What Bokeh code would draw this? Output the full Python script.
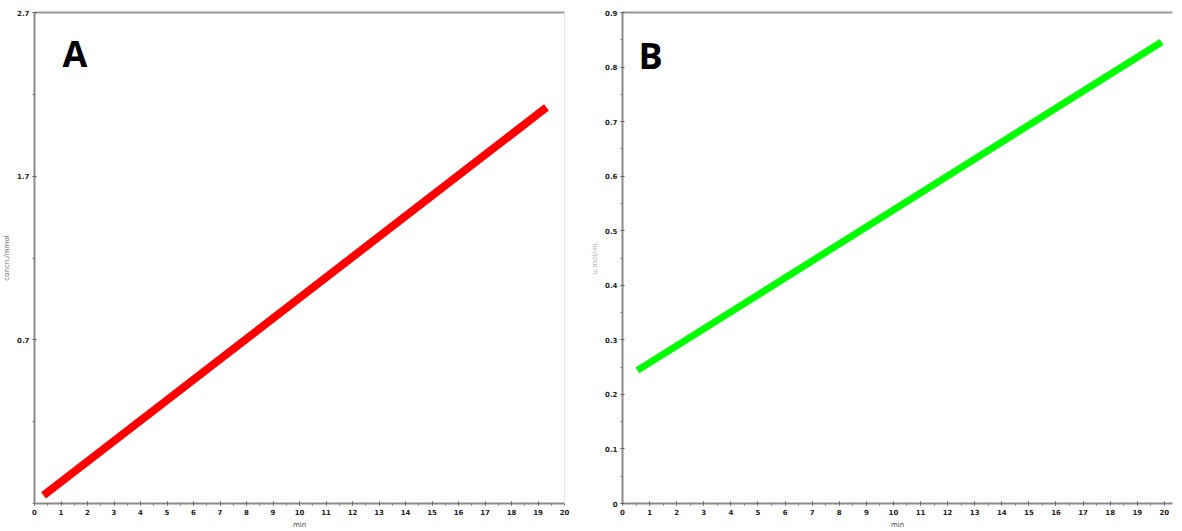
from bokeh.plotting import figure
from bokeh.models import LinearAxis, FixedTicker, Range1d, Label
from bokeh.layouts import row
from bokeh.embed import file_html
from bokeh.resources import INLINE

# Panel A data
a_time = [0.34, 19.32]
a_conc = [-0.25, 2.12]
a_yticks = [0.7, 1.7, 2.7]
a_yminor = [-0.3, 0.2, 0.7, 1.2, 1.7, 2.2, 2.7]
a_ylabel = "concn./mmol"

# Panel B data
b_time = [0.55, 19.9]
b_conc = [0.244, 0.846]
b_yticks = [0.0, 0.1, 0.2, 0.3, 0.4, 0.5, 0.6, 0.7, 0.8, 0.9]
b_yminor = [i * 0.05 for i in range(19)]
b_ylabel = "u.mol/mL"

x_ticks = list(range(0, 21))
x_minor = [i * 0.5 for i in range(41)]
x_label = "min"

AX = "#8a8a8a"
TICKFONT = "DejaVu Sans"


def style(p, yticks, yminor, ylabel, ylabel_color):
    p.xaxis.ticker = FixedTicker(ticks=x_ticks, minor_ticks=x_minor)
    p.yaxis.ticker = FixedTicker(ticks=yticks, minor_ticks=yminor)
    for ax in (p.xaxis[0], p.yaxis[0]):
        ax.axis_line_color = AX
        ax.axis_line_width = 2
        ax.major_tick_line_color = "#555555"
        ax.minor_tick_line_color = "#777777"
        ax.major_tick_in = 2
        ax.major_tick_out = 2
        ax.minor_tick_in = 0
        ax.minor_tick_out = 2
        ax.major_label_text_font = TICKFONT
        ax.major_label_text_font_size = "7px"
        ax.major_label_text_font_style = "bold"
        ax.major_label_text_color = "#222222"
        ax.major_label_standoff = 3
        ax.axis_label_text_font = TICKFONT
        ax.axis_label_text_font_size = "7px"
        ax.axis_label_text_font_style = "normal"
        ax.axis_label_standoff = 3
    p.xaxis.axis_label = x_label
    p.xaxis.axis_label_text_color = "#444444"
    p.yaxis.axis_label = ylabel
    p.yaxis.axis_label_text_color = ylabel_color
    p.xgrid.visible = False
    p.ygrid.visible = False
    p.outline_line_color = None
    top = LinearAxis(ticker=FixedTicker(ticks=[]), axis_line_color="#9a9a9a",
                     axis_line_width=2, major_label_text_font_size="0px",
                     major_tick_line_color=None, minor_tick_line_color=None)
    p.add_layout(top, "above")


pa = figure(width=580, height=531, output_backend="svg", toolbar_location=None,
            x_range=Range1d(0, 20), y_range=Range1d(-0.3, 2.7),
            min_border_left=34, min_border_right=16, min_border_top=12,
            min_border_bottom=27)
style(pa, a_yticks, a_yminor, a_ylabel, "#666666")
right = LinearAxis(ticker=FixedTicker(ticks=[]), axis_line_color="#e6e6e6",
                   axis_line_width=1, major_label_text_font_size="0px",
                   major_tick_line_color=None, minor_tick_line_color=None)
pa.add_layout(right, "right")
pa.line(a_time, a_conc, line_color="#ff0000", line_width=8, line_cap="butt")
pa.add_layout(Label(x=28, y=426, x_units="screen", y_units="screen", text="A",
                    text_font="Open Sans", text_font_style="bold",
                    text_font_size="36px", text_color="#000000"))

pb = figure(width=602, height=531, output_backend="svg", toolbar_location=None,
            x_range=Range1d(0, 20.3), y_range=Range1d(0, 0.9),
            min_border_left=42, min_border_right=10, min_border_top=12,
            min_border_bottom=27)
style(pb, b_yticks, b_yminor, b_ylabel, "#b0b0b0")
pb.line(b_time, b_conc, line_color="#00ff00", line_width=7, line_cap="butt")
pb.add_layout(Label(x=16, y=424, x_units="screen", y_units="screen", text="B",
                    text_font="Open Sans", text_font_style="bold",
                    text_font_size="36px", text_color="#000000"))

layout = row(pa, pb, spacing=0)
open("out.html", "w").write(file_html(layout, INLINE))
